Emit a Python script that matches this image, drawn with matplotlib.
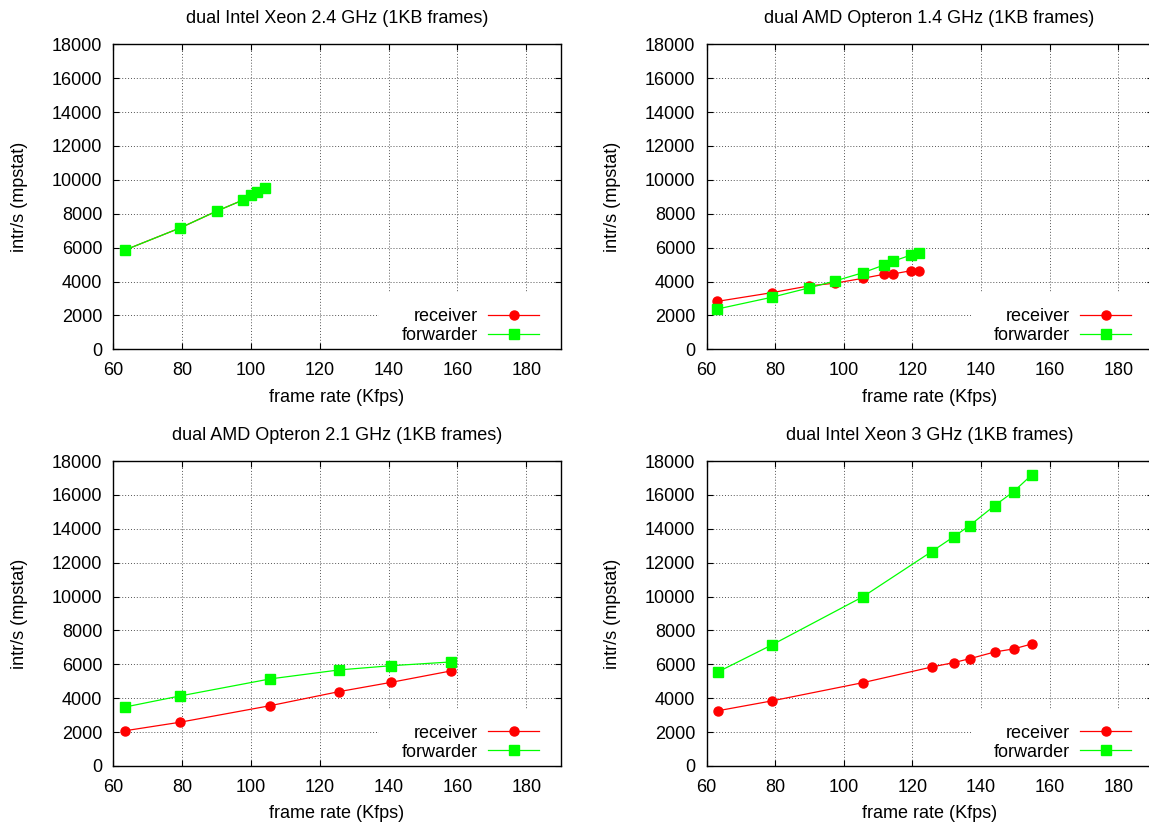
import matplotlib
matplotlib.use('Agg')
import matplotlib.pyplot as plt
from matplotlib.lines import Line2D
from matplotlib.patches import Rectangle

plt.rcParams['font.family'] = ['Liberation Sans', 'DejaVu Sans']

# panel titles
titles = [
    'dual Intel Xeon 2.4 GHz (1KB frames)',
    'dual AMD Opteron 1.4 GHz (1KB frames)',
    'dual AMD Opteron 2.1 GHz (1KB frames)',
    'dual Intel Xeon 3 GHz (1KB frames)',
]

# frame rate (Kfps) per panel
xeon24_rate = [63.4, 79.4, 90.1, 97.7, 100.0, 101.7, 104.1]
opt14_rate = [63.2, 79.0, 89.8, 97.4, 105.6, 111.8, 114.4, 119.7, 121.9]
opt21_rate = [63.4, 79.3, 105.6, 125.6, 140.8, 158.1]
xeon3_rate = [63.3, 79.0, 105.6, 125.6, 132.0, 136.7, 144.0, 149.5, 154.8]

# intr/s (mpstat)
xeon24_recv = [5860, 7160, 8160, 8810, 9090, 9290, 9520]
xeon24_fwd = [5860, 7160, 8160, 8810, 9090, 9290, 9520]
opt14_recv = [2830, 3340, 3740, 3900, 4190, 4430, 4450, 4640, 4600]
opt14_fwd = [2380, 3070, 3620, 4030, 4520, 4980, 5200, 5570, 5700]
opt21_recv = [2080, 2580, 3560, 4390, 4940, 5610]
opt21_fwd = [3480, 4130, 5140, 5670, 5920, 6140]
xeon3_recv = [3260, 3840, 4920, 5840, 6100, 6330, 6730, 6910, 7200]
xeon3_fwd = [5550, 7140, 9990, 12650, 13520, 14190, 15370, 16190, 17180]

panels = [
    (xeon24_rate, xeon24_recv, xeon24_fwd),
    (opt14_rate, opt14_recv, opt14_fwd),
    (opt21_rate, opt21_recv, opt21_fwd),
    (xeon3_rate, xeon3_recv, xeon3_fwd),
]

RED = '#ff0000'
GREEN = '#00ff00'
FS = 13

W, H = 1149, 825
fig = plt.figure(figsize=(W / 100, H / 100), dpi=100)

# axes boxes in pixels: left, top, right, bottom
boxes = [
    (113.3, 44.3, 560.7, 349.3),
    (706.5, 44.3, 1152.5, 349.3),
    (113.3, 461.0, 560.7, 766.0),
    (706.5, 461.0, 1152.5, 766.0),
]

for (l, t, r, b), title, (x, recv, fwd) in zip(boxes, titles, panels):
    ax = fig.add_axes([l / W, 1 - b / H, (r - l) / W, (b - t) / H])
    ax.plot(x, recv, color=RED, lw=0.9, marker='o', ms=6.5, mec=RED, mfc=RED)
    ax.plot(x, fwd, color=GREEN, lw=0.9, marker='s', ms=6.5, mec=GREEN, mfc=GREEN)

    ax.set_xlim(60, 190)
    ax.set_ylim(0, 18000)
    ax.set_xticks(range(60, 181, 20))
    ax.set_yticks(range(0, 18001, 2000))
    ax.tick_params(direction='in', top=True, right=True, length=4, width=0.8,
                   labelsize=FS, pad=8)
    ax.tick_params(axis='x', pad=9)
    ax.grid(True, color='#555555', linestyle=(0, (1, 2)), linewidth=0.7)
    for s in ax.spines.values():
        s.set_linewidth(1.0)

    # white key area that hides the grid behind the legend
    ax.add_patch(Rectangle((0.593, 0.0), 0.407, 0.185, transform=ax.transAxes,
                           facecolor='white', edgecolor='none', zorder=1.8))

    ax.set_title(title, fontsize=FS, pad=15)
    ax.set_xlabel('frame rate (Kfps)', fontsize=FS, labelpad=7)
    ax.set_ylabel('intr/s (mpstat)', fontsize=FS, labelpad=17)

    handles = [
        Line2D([], [], color=RED, lw=0.9, marker='o', ms=6.5, mec=RED, mfc=RED),
        Line2D([], [], color=GREEN, lw=0.9, marker='s', ms=6.5, mec=GREEN, mfc=GREEN),
    ]
    ax.legend(handles, ['receiver', 'forwarder'], loc='lower right',
              bbox_to_anchor=(0.9636, 0.0), markerfirst=False, fontsize=FS,
              frameon=False, handlelength=2.8, handletextpad=0.6,
              labelspacing=0.1, borderpad=0.3, borderaxespad=0.0)

plt.savefig('out.png', dpi=100)
